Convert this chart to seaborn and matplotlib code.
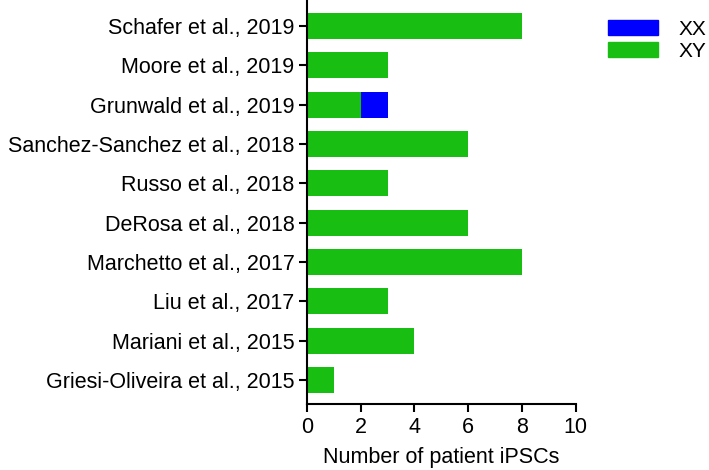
import pandas as pd
import seaborn as sns
import matplotlib.pyplot as plt
from matplotlib.patches import Patch

studies = ["Schafer et al., 2019", "Moore et al., 2019", "Grunwald et al., 2019",
           "Sanchez-Sanchez et al., 2018", "Russo et al., 2018", "DeRosa et al., 2018",
           "Marchetto et al., 2017", "Liu et al., 2017", "Mariani et al., 2015",
           "Griesi-Oliveira et al., 2015"]
xy = [8, 3, 2, 6, 3, 6, 8, 3, 4, 1]
xx = [0, 0, 1, 0, 0, 0, 0, 0, 0, 0]

df = pd.DataFrame({"study": studies, "XY": xy, "XX": xx})
df["total"] = df["XY"] + df["XX"]

sns.set_style("ticks")
plt.rcParams['font.family'] = ['Liberation Sans', 'DejaVu Sans']
plt.rcParams['text.color'] = 'black'
plt.rcParams['axes.labelcolor'] = 'black'
plt.rcParams['xtick.color'] = 'black'
plt.rcParams['ytick.color'] = 'black'

blue = "#0000FF"
green = "#18BE12"
fs = 15.5

fig = plt.figure(figsize=(7.09, 4.70), dpi=100)
ax = fig.add_axes([0.433, 0.1404, 0.379, 0.8596])

# stacked: total in blue underneath, XY in green on top
sns.barplot(data=df, y="study", x="total", color=blue, orient="h",
            width=0.66, saturation=1, linewidth=0, ax=ax)
sns.barplot(data=df, y="study", x="XY", color=green, orient="h",
            width=0.66, saturation=1, linewidth=0, ax=ax)

ax.set_xlim(0, 10)
ax.set_ylim(9.61, -0.66)
ax.set_xticks([0, 2, 4, 6, 8, 10])
ax.set_xlabel("Number of patient iPSCs", fontsize=fs, labelpad=7)
ax.set_ylabel("")
ax.tick_params(axis="both", labelsize=fs, width=1.5, length=6, color="black", pad=3)
for s in ["left", "bottom"]:
    ax.spines[s].set_linewidth(1.5)
    ax.spines[s].set_color("black")
sns.despine(ax=ax)

handles = [Patch(color=blue, label="XX"), Patch(color=green, label="XY")]
fig.legend(handles=handles, loc="upper left", bbox_to_anchor=(0.8575, 0.958),
           frameon=False, fontsize=15, handlelength=2.4, handleheight=0.72,
           handletextpad=1.0, labelspacing=0.15, borderpad=0, borderaxespad=0)

fig.savefig("out.png", dpi=100)
